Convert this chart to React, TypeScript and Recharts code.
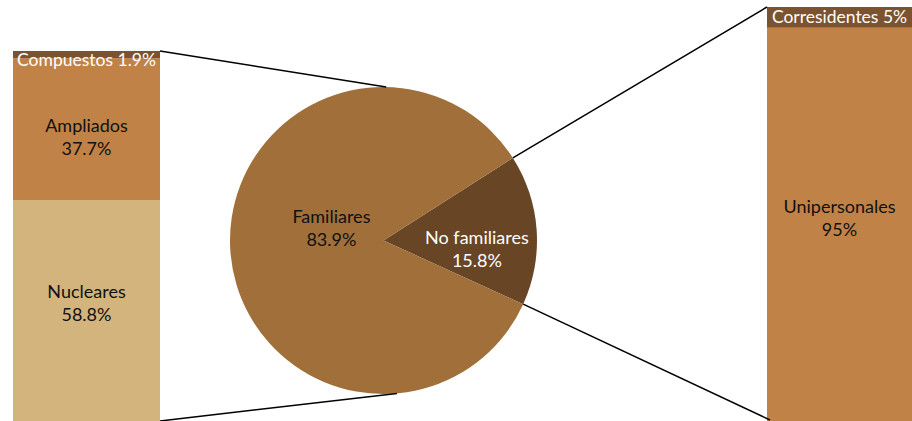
import { BarChart, Bar, XAxis, YAxis, PieChart, Pie, Cell, LabelList } from "recharts";

// pie: household type
const pieNames = ["No familiares", "Familiares"];
const pieValues = [15.8, 83.9];
const pieColors = ["#684525", "#a06f3a"];

// left stack: breakdown of "Familiares" (bottom -> top)
const leftNames = ["Nucleares", "Ampliados", "Compuestos"];
const leftValues = [58.8, 37.7, 1.9];
const leftColors = ["#d3b47d", "#c08246", "#7b532f"];

// right stack: breakdown of "No familiares" (bottom -> top)
const rightNames = ["Unipersonales", "Corresidentes"];
const rightValues = [95, 5];
const rightColors = ["#c08246", "#7b532f"];

const FONT = "Lato, 'Liberation Sans', sans-serif";
const W = 912;
const H = 421;
const PAD = 12; // room above each stack so the top label isn't clipped

// layout boxes
const LEFT = { x: 13, y: 51, w: 147, h: 370 };
const RIGHT = { x: 767, y: 7, w: 145, h: 414 };
const PIE = { cx: 383.5, cy: 240.5, r: 153.5 };

const sum = (a: number[]) => a.reduce((s, v) => s + v, 0);
const pieStart = -24.5;
const pieEnd = pieStart + 360;
const sliceEnd = pieStart + (pieValues[0] / sum(pieValues)) * 360;

const leftData = [Object.fromEntries([["name", "left"], ...leftNames.map((n, i) => [n, leftValues[i]])])];
const rightData = [Object.fromEntries([["name", "right"], ...rightNames.map((n, i) => [n, rightValues[i]])])];
const pieData = pieNames.map((name, i) => ({ name, value: pieValues[i] }));

// small per-label vertical nudges (Excel-ish placement)
const NUDGE: Record<string, number> = { Ampliados: 7, Nucleares: -8, Unipersonales: -7, Compuestos: 5, Corresidentes: -1 };
const SMALL = ["Compuestos", "Corresidentes"];

function pt(angle: number) {
  const rad = (angle * Math.PI) / 180;
  return [PIE.cx + PIE.r * Math.cos(rad), PIE.cy - PIE.r * Math.sin(rad)];
}

function stackLabel(name: string) {
  return (props: any) => {
    const { x, y, width, height, value } = props;
    const cx = x + width / 2;
    const cy = y + height / 2 + (NUDGE[name] || 0);
    if (SMALL.includes(name)) {
      return (
        <text x={cx} y={cy} textAnchor="middle" dominantBaseline="central" fill="#fff" fontSize={17.5} fontFamily={FONT}>
          {name} {value}%
        </text>
      );
    }
    return (
      <text textAnchor="middle" fill="#111" fontSize={18} fontFamily={FONT}>
        <tspan x={cx} y={cy - 11.5} dominantBaseline="central">{name}</tspan>
        <tspan x={cx} y={cy + 11.5} dominantBaseline="central">{value}%</tspan>
      </text>
    );
  };
}

function StackBar({ box, data, names, colors, total }: any) {
  return (
    <div style={{ position: "absolute", left: box.x, top: box.y - PAD }}>
      <BarChart width={box.w} height={box.h + PAD} data={data} margin={{ top: PAD, right: 0, bottom: 0, left: 0 }} barCategoryGap={0}>
        <XAxis dataKey="name" hide />
        <YAxis hide domain={[0, total]} />
        {names.map((n: string, i: number) => (
          <Bar key={n} dataKey={n} stackId="s" fill={colors[i]} isAnimationActive={false}>
            <LabelList dataKey={n} content={stackLabel(n)} />
          </Bar>
        ))}
      </BarChart>
    </div>
  );
}

const PIE_LABEL: Record<string, { r: number; dy: number; fill: string }> = {
  Familiares: { r: 0.34, dy: -17, fill: "#111" },
  "No familiares": { r: 0.61, dy: 15, fill: "#fff" },
};

function pieLabel(props: any) {
  const { cx, cy, midAngle, outerRadius, name, value } = props;
  const cfg = PIE_LABEL[name];
  const rad = (midAngle * Math.PI) / 180;
  const x = cx + outerRadius * cfg.r * Math.cos(rad);
  const y = cy - outerRadius * cfg.r * Math.sin(rad) + cfg.dy;
  return (
    <text textAnchor="middle" fill={cfg.fill} fontSize={18} fontFamily={FONT}>
      <tspan x={x} y={y - 11.5} dominantBaseline="central">{name}</tspan>
      <tspan x={x} y={y + 11.5} dominantBaseline="central">{value}%</tspan>
    </text>
  );
}

export default function App() {
  const [tlx, tly] = pt(89);
  const [blx, bly] = pt(-85);
  const [trx, try_] = pt(sliceEnd);
  const [brx, bry] = pt(pieStart);
  return (
    <div style={{ position: "absolute", left: 0, top: 0, width: W, height: H, background: "#fff", overflow: "hidden" }}>
      <div style={{ position: "absolute", left: 0, top: 0 }}>
        <PieChart width={W} height={H} margin={{ top: 0, right: 0, bottom: 0, left: 0 }}>
          <Pie
            data={pieData}
            dataKey="value"
            nameKey="name"
            cx={PIE.cx}
            cy={PIE.cy}
            outerRadius={PIE.r}
            startAngle={pieStart}
            endAngle={pieEnd}
            stroke="none"
            label={pieLabel}
            labelLine={false}
            isAnimationActive={false}
          >
            {pieData.map((d, i) => (
              <Cell key={d.name} fill={pieColors[i]} />
            ))}
          </Pie>
        </PieChart>
      </div>
      <StackBar box={LEFT} data={leftData} names={leftNames} colors={leftColors} total={sum(leftValues)} />
      <StackBar box={RIGHT} data={rightData} names={rightNames} colors={rightColors} total={sum(rightValues)} />
      <svg width={W} height={H} style={{ position: "absolute", left: 0, top: 0, pointerEvents: "none" }}>
        <g stroke="#000" strokeWidth={1.5}>
          <line x1={LEFT.x + LEFT.w} y1={LEFT.y} x2={tlx} y2={tly} />
          <line x1={LEFT.x + LEFT.w} y1={LEFT.y + LEFT.h} x2={blx} y2={bly} />
          <line x1={trx} y1={try_} x2={RIGHT.x} y2={RIGHT.y} />
          <line x1={brx} y1={bry} x2={RIGHT.x + 3} y2={RIGHT.y + RIGHT.h - 1} />
        </g>
      </svg>
    </div>
  );
}
